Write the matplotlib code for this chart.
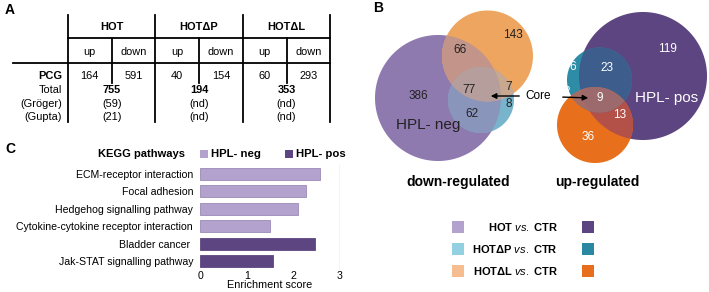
import numpy as np
import matplotlib
matplotlib.use('Agg')
from matplotlib import pyplot as plt
from matplotlib.patches import Circle, Rectangle, Polygon

plt.rcParams.update({
  'font.family': 'Liberation Sans',
  'mathtext.fontset': 'custom',
  'mathtext.rm': 'Liberation Sans',
  'mathtext.it': 'Liberation Sans:italic',
  'mathtext.bf': 'Liberation Sans:bold',
})

# --- data ---
groups = ['HOT', 'HOTΔP', 'HOTΔL']
pcg_up = [164, 40, 60]
pcg_down = [591, 154, 293]
totals = [755, 194, 353]
groger = ['(59)', '(nd)', '(nd)']
gupta = ['(21)', '(nd)', '(nd)']

# venn counts: only-HOT, only-dL, HOT&dL, all three, dL&dP, only-dP, HOT&dP
venn_down = [386, 143, 66, 77, 7, 8, 62]
# only-HOT, only-dP, HOT&dP, dP&dL, all three, HOT&dL, only-dL
venn_up = [119, 6, 23, 2, 9, 13, 36]

pathways = ['ECM-receptor interaction', 'Focal adhesion', 'Hedgehog signalling pathway',
            'Cytokine-cytokine receptor interaction', 'Bladder cancer ', 'Jak-STAT signalling pathway']
scores = [2.58, 2.28, 2.09, 1.49, 2.46, 1.57]
hpl = ['neg', 'neg', 'neg', 'neg', 'pos', 'pos']

light = {'HOT': '#b2a2cd', 'dP': '#93d0e2', 'dL': '#f6bd90'}
dark = {'HOT': '#5c4580', 'dP': '#2a89a1', 'dL': '#e66e1c'}


def region(circles, n=720):
  # polygon of the intersection of circles (x, y, r)
  t = np.linspace(0, 2 * np.pi, n, endpoint=False)
  pts = []
  for i, (cx, cy, r) in enumerate(circles):
    p = np.column_stack([cx + r * np.cos(t), cy + r * np.sin(t)])
    keep = np.ones(n, bool)
    for j, (ox, oy, orr) in enumerate(circles):
      if j != i:
        keep &= np.hypot(p[:, 0] - ox, p[:, 1] - oy) <= orr
    pts.append(p[keep])
  p = np.concatenate(pts)
  c = p.mean(axis=0)
  order = np.argsort(np.arctan2(p[:, 1] - c[1], p[:, 0] - c[0]))
  return p[order]


def venn(ax, circ, cols):
  # circ: dict name -> (x, y, r); cols: dict of region key -> colour
  for k in ['a', 'b', 'c']:
    ax.add_patch(Polygon(region([circ[k]]), closed=True, color=cols[k], lw=0))
  for k in ['ab', 'ac', 'bc', 'abc']:
    ax.add_patch(Polygon(region([circ[c] for c in k]), closed=True, color=cols[k], lw=0))


fig = plt.figure(figsize=(7.09, 2.92), dpi=100)
ax = fig.add_axes([0, 0, 1, 1])
ax.set_xlim(0, 709)
ax.set_ylim(292, 0)
ax.axis('off')

# ---------- A: table ----------
ax.text(5, 10, 'A', fontsize=10, fontweight='bold', va='center')
lw = 1.3
for x in [68, 155, 243, 330]:
  ax.plot([x, x], [15, 122], color='black', lw=lw)
for x in [112, 199, 287]:
  ax.plot([x, x], [38, 83], color='black', lw=lw)
ax.plot([68, 330], [38, 38], color='black', lw=lw)
ax.plot([13, 330], [63, 63], color='black', lw=lw)

fs = 7.9
for i, g in enumerate(groups):
  x0 = 68 + i * 87.4
  xm = x0 + 43.7
  ax.text(xm, 27, g, fontsize=fs, fontweight='bold', ha='center', va='center')
  ax.text(x0 + 21.8, 52, 'up', fontsize=fs, ha='center', va='center')
  ax.text(x0 + 65.5, 52, 'down', fontsize=fs, ha='center', va='center')
  ax.text(x0 + 21.8, 76, str(pcg_up[i]), fontsize=fs, ha='center', va='center')
  ax.text(x0 + 65.5, 76, str(pcg_down[i]), fontsize=fs, ha='center', va='center')
  ax.text(xm, 90, str(totals[i]), fontsize=fs, fontweight='bold', ha='center', va='center')
  ax.text(xm, 104, groger[i], fontsize=fs, ha='center', va='center')
  ax.text(xm, 117, gupta[i], fontsize=fs, ha='center', va='center')

ax.text(62, 76, 'PCG', fontsize=fs, fontweight='bold', ha='right', va='center')
ax.text(62, 90, 'Total', fontsize=fs, ha='right', va='center')
ax.text(62, 104, '(Gröger)', fontsize=fs, ha='right', va='center')
ax.text(62, 117, '(Gupta)', fontsize=fs, ha='right', va='center')

# ---------- B: venn ----------
ax.text(373, 8, 'B', fontsize=10, fontweight='bold', va='center')

# a = HOT, b = HOTdL, c = HOTdP
venn(ax, {'a': (438, 98, 63), 'b': (487.5, 56, 45.5), 'c': (481, 100, 33)},
     {'a': '#8f7ab0', 'b': '#eea560', 'c': '#78b5cc', 'ab': '#c3948a',
      'ac': '#8a95bc', 'bc': '#c9a890', 'abc': '#b59e9c'})

dpos = [(418, 96), (513, 35), (460, 50), (469, 90), (509, 87), (509, 104), (472, 114)]
for (x, y), v in zip(dpos, venn_down):
  ax.text(x, y, str(v), fontsize=8.5, color='#222222', ha='center', va='center')
ax.text(428, 125, 'HPL- neg', fontsize=11, color='#222222', ha='center', va='center')

venn(ax, {'a': (643, 76, 64), 'b': (595, 125, 38), 'c': (599.5, 80, 32.5)},
     {'a': '#5c4580', 'b': '#e8701d', 'c': '#2e8ca6', 'ab': '#b35148',
      'ac': '#3d5d8c', 'bc': '#a56c66', 'abc': '#9c6a6c'})

upos = [(667, 49), (573, 67), (607, 68), (567, 92), (600, 98), (620, 115), (588, 137)]
for (x, y), v in zip(upos, venn_up):
  ax.text(x, y, str(v), fontsize=8.5, color='white', ha='center', va='center')
ax.text(667, 98, 'HPL- pos', fontsize=11, color='white', ha='center', va='center')

ax.text(538, 96, 'Core', fontsize=8.5, ha='center', va='center')
ax.annotate('', xy=(488, 96), xytext=(522, 96),
            arrowprops=dict(arrowstyle='-|>', color='black', lw=1, mutation_scale=8))
ax.annotate('', xy=(591, 98), xytext=(560, 97),
            arrowprops=dict(arrowstyle='-|>', color='black', lw=1, mutation_scale=8))

ax.text(458, 182, 'down-regulated', fontsize=10, fontweight='bold', ha='center', va='center')
ax.text(597, 182, 'up-regulated', fontsize=10, fontweight='bold', ha='center', va='center')

leg_labels = [r'$\mathbf{HOT}\ \mathit{vs.}\ \mathbf{CTR}$',
              r'$\mathbf{HOTΔP}\ \mathit{vs.}\ \mathbf{CTR}$',
              r'$\mathbf{HOTΔL}\ \mathit{vs.}\ \mathbf{CTR}$']
for i, (k, lab) in enumerate(zip(['HOT', 'dP', 'dL'], leg_labels)):
  y = 227 + i * 22
  ax.add_patch(Rectangle((452, y - 6), 12, 12, color=light[k], lw=0))
  ax.add_patch(Rectangle((582, y - 6), 12, 12, color=dark[k], lw=0))
  ax.text(558, y, lab, fontsize=8, ha='right', va='center')

# ---------- C: bar chart ----------
ax.text(5, 149, 'C', fontsize=10, fontweight='bold', va='center')
ax.text(185, 154, 'KEGG pathways', fontsize=8, fontweight='bold', ha='right', va='center')
ax.add_patch(Rectangle((200, 150), 8, 8, color=light['HOT'], lw=0))
ax.text(211, 154, 'HPL- neg', fontsize=8.2, fontweight='bold', ha='left', va='center')
ax.add_patch(Rectangle((285, 150), 8, 8, color=dark['HOT'], lw=0))
ax.text(296, 154, 'HPL- pos', fontsize=8.2, fontweight='bold', ha='left', va='center')

bx = fig.add_axes([200 / 709, 22 / 292, 140 / 709, 105 / 292])
ypos = list(range(len(pathways)))
cols = [light['HOT'] if h == 'neg' else dark['HOT'] for h in hpl]
edges = ['#9a8ab5' if h == 'neg' else dark['HOT'] for h in hpl]
bx.barh(ypos, scores, height=0.68, color=cols, edgecolor=edges, lw=0.6)
bx.axvline(3, color='#c8c8c8', lw=1, zorder=0)
bx.set_xlim(0, 3)
bx.set_ylim(5.5, -0.5)
bx.set_xticks([0, 1, 2, 3])
bx.set_yticks(ypos)
bx.set_yticklabels(pathways, fontsize=7.6)
bx.tick_params(axis='both', length=0, labelsize=7.6)
bx.tick_params(axis='y', pad=5)
bx.tick_params(axis='x', pad=1)
bx.set_xlabel('Enrichment score', fontsize=7.8, labelpad=-1)
for s in bx.spines.values():
  s.set_visible(False)
bx.patch.set_alpha(0)

fig.savefig('out.png', dpi=100)
